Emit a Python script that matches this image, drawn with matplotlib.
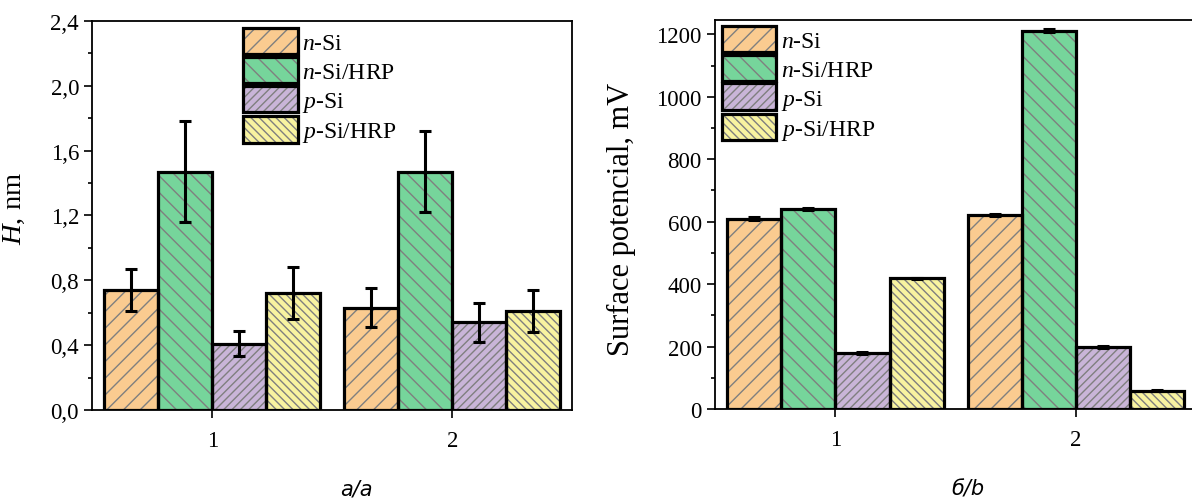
import matplotlib
matplotlib.use("Agg")
import matplotlib.pyplot as plt
import numpy as np
from matplotlib.patches import Patch
from matplotlib.legend_handler import HandlerTuple
from matplotlib.ticker import MultipleLocator, FuncFormatter

plt.rcParams['font.family'] = ['Liberation Serif', 'DejaVu Serif']
plt.rcParams['mathtext.fontset'] = 'custom'
plt.rcParams['mathtext.rm'] = 'Liberation Serif'
plt.rcParams['mathtext.it'] = 'Liberation Serif:italic'
plt.rcParams['hatch.linewidth'] = 1.0

# data
groups = [1, 2]
series = [r'$\mathit{n}$-Si', r'$\mathit{n}$-Si/HRP', r'$\mathit{p}$-Si', r'$\mathit{p}$-Si/HRP']

height_nm = [[0.74, 0.63], [1.47, 1.47], [0.41, 0.54], [0.72, 0.61]]
height_err = [[0.13, 0.12], [0.31, 0.25], [0.08, 0.12], [0.16, 0.13]]

potential_mV = [[610, 621], [640, 1212], [178, 198], [418, 59]]
potential_err = [[4, 4], [4, 6], [3, 4], [3, 2]]

colors = ['#FACB90', '#76D59B', '#C9B5D8', '#F8F3A0']
hatches = ['//', '\\\\', '////', '\\\\\\\\']
hatch_gray = '#7f7f7f'

width = 0.225
offsets = [-1.5, -0.5, 0.5, 1.5]

fig = plt.figure(figsize=(11.92, 5.02), dpi=100)
axL = fig.add_axes([0.0774, 0.1813, 0.4027, 0.775])
axR = fig.add_axes([0.5998, 0.1833, 0.404, 0.7743])


def draw(ax, vals, errs):
    x = np.array(groups, dtype=float)
    for i in range(4):
        xs = x + offsets[i] * width
        ax.bar(xs, vals[i], width, color=colors[i], hatch=hatches[i],
               edgecolor=hatch_gray, linewidth=0, zorder=2)
        ax.bar(xs, vals[i], width, fill=False, edgecolor='black',
               linewidth=2.3, zorder=3)
        ax.errorbar(xs, vals[i], yerr=errs[i], fmt='none', ecolor='black',
                    elinewidth=2.2, capsize=4, capthick=2.2, zorder=4)
    ax.set_xlim(0.5, 2.5)
    ax.set_xticks(groups)
    ax.tick_params(axis='x', which='both', direction='out', length=5.5,
                   width=1.2, pad=9, labelsize=16.5, top=False)
    ax.tick_params(axis='y', which='major', direction='out', length=5.5,
                   width=1.2, pad=4, labelsize=16.5, right=False)
    ax.tick_params(axis='y', which='minor', direction='out', length=3,
                   width=1.2, right=False)
    for s in ax.spines.values():
        s.set_linewidth(1.3)
    handles = [(Patch(facecolor=colors[i], hatch=hatches[i], edgecolor=hatch_gray, linewidth=0),
                Patch(fill=False, edgecolor='black', linewidth=2.3)) for i in range(4)]
    return handles


leg_kw = dict(handler_map={tuple: HandlerTuple(ndivide=1)}, loc='upper left',
              frameon=False, fontsize=17, handlelength=2.3, handleheight=1.35,
              labelspacing=0.1, handletextpad=0.2, borderpad=0, borderaxespad=0)

hL = draw(axL, height_nm, height_err)
axL.set_ylim(0, 2.4)
axL.yaxis.set_major_locator(MultipleLocator(0.4))
axL.yaxis.set_minor_locator(MultipleLocator(0.2))
axL.yaxis.set_major_formatter(FuncFormatter(lambda v, p: f"{v:.1f}".replace('.', ',')))
axL.set_ylabel(r'$\mathit{H}$, nm', fontsize=20.5)
axL.yaxis.set_label_coords(-0.135, 0.52)
axL.legend(hL, series, bbox_to_anchor=(0.315, 0.982), **leg_kw)

hR = draw(axR, potential_mV, potential_err)
axR.set_ylim(0, 1245)
axR.yaxis.set_major_locator(MultipleLocator(200))
axR.yaxis.set_minor_locator(MultipleLocator(100))
axR.spines['right'].set_visible(False)
axR.set_ylabel('Surface potencial, mV', fontsize=22)
axR.yaxis.set_label_coords(-0.165, 0.49)
axR.legend(hR, series, bbox_to_anchor=(0.014, 0.986), **leg_kw)

fig.text(356 / 1192, 1 - 490 / 502, 'а/a', family='DejaVu Sans', style='italic',
         fontsize=15, ha='center', va='center')
fig.text(968 / 1192, 1 - 490 / 502, 'б/b', family='DejaVu Sans', style='italic',
         fontsize=15, ha='center', va='center')

fig.savefig('out.png', dpi=100)
